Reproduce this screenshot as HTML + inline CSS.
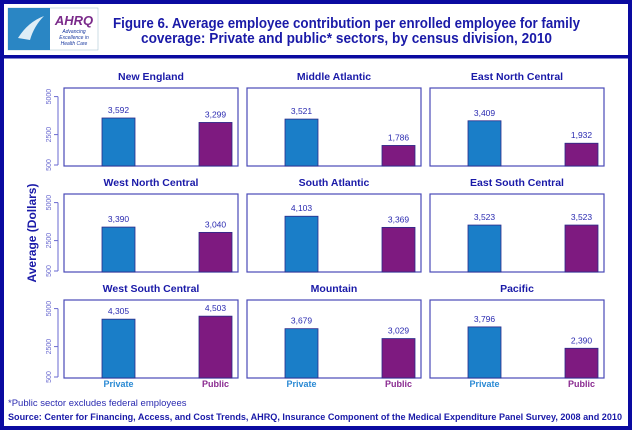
<!DOCTYPE html>
<html><head><meta charset="utf-8"><style>
html,body{margin:0;padding:0;background:#fff}
svg{display:block;font-family:"Liberation Sans",Arial,sans-serif}
</style></head><body>
<svg width="640" height="432" viewBox="0 0 640 432">
<rect x="2" y="2" width="628" height="426" fill="#fff" stroke="#0a0aa0" stroke-width="4"/>
<rect x="4" y="55" width="624" height="3.5" fill="#0a0aa0"/>
<g>
<rect x="8" y="8" width="90" height="42" fill="#fff" stroke="#9bc" stroke-width="0.5"/>
<rect x="8" y="8" width="42" height="42" fill="#2a86c4"/>
<path d="M18 38 Q28 22 44 16 Q34 26 30 40 Z" fill="#fff" opacity="0.85"/>
<text x="74" y="25" text-anchor="middle" font-size="13" font-weight="bold" font-style="italic" fill="#7a2a8a">AHRQ</text>
<text x="74" y="33" text-anchor="middle" font-size="5" font-style="italic" fill="#1a3aa0">Advancing</text>
<text x="74" y="39" text-anchor="middle" font-size="5" font-style="italic" fill="#1a3aa0">Excellence in</text>
<text x="74" y="45" text-anchor="middle" font-size="5" font-style="italic" fill="#1a3aa0">Health Care</text>
</g>
<text x="113" y="28" font-size="14.5" font-weight="bold" fill="#1a1aa8" textLength="467" lengthAdjust="spacingAndGlyphs">Figure 6. Average employee contribution per enrolled employee for family</text>
<text x="141" y="43" font-size="14.5" font-weight="bold" fill="#1a1aa8" textLength="411" lengthAdjust="spacingAndGlyphs">coverage: Private and public* sectors, by census division, 2010</text>
<text transform="translate(36,233) rotate(-90)" text-anchor="middle" font-size="12" font-weight="bold" fill="#1a1aa8">Average (Dollars)</text>
<g id="panels"></g>
<text x="8" y="406" font-size="9.5" fill="#2a2ab0">*Public sector excludes federal employees</text>
<text x="8" y="420" font-size="9" font-weight="bold" fill="#1a1aa8" textLength="614" lengthAdjust="spacingAndGlyphs">Source: Center for Financing, Access, and Cost Trends, AHRQ, Insurance Component of the Medical Expenditure Panel Survey, 2008 and 2010</text>
</svg>
<script>
const divisions = ["New England","Middle Atlantic","East North Central","West North Central","South Atlantic","East South Central","West South Central","Mountain","Pacific"];
const privateValues = [3592,3521,3409,3390,4103,3523,4305,3679,3796];
const publicValues = [3299,1786,1932,3040,3369,3523,4503,3029,2390];
const yTicks = [500,2500,5000];
const sectors = ["Private","Public"];
const NS="http://www.w3.org/2000/svg";
const g=document.getElementById('panels');
const colX=[64,247,430], rowY=[88,194,300], PW=174, PH=78;
function yScale(v,top){ const bottom=top+77; return bottom-(v-500)*0.0152; }
function mk(tag,attrs,parent){const e=document.createElementNS(NS,tag);for(const k in attrs)e.setAttribute(k,attrs[k]);parent.appendChild(e);return e;}
function fmt(v){return v.toLocaleString('en-US');}
divisions.forEach((d,i)=>{
  const px=colX[i%3], py=rowY[Math.floor(i/3)];
  const pg=mk('g',{},g);
  
  
  const t=mk('text',{x:px+PW/2,y:py-8,'text-anchor':'middle','font-size':'10.5','font-weight':'bold',fill:'#1a1aa8'},pg);
  t.textContent=d;
  
  
  const r=mk('rect',{x:px,y:py,width:PW,height:PH,fill:'#fff',stroke:'#4a4ab8','stroke-width':1.2},pg);
  
  
  if(i%3===0){
    const ax=mk('line',{x1:px-6,x2:px-6,y1:yScale(5000,py),y2:yScale(500,py),stroke:'#6a6ad0','stroke-width':1},pg);
    
    
    yTicks.forEach(v=>{
      const y=yScale(v,py);
      const tk=mk('line',{x1:px-10,x2:px-6,y1:y,y2:y,stroke:'#6a6ad0'},pg);
      
      
      const tl=mk('text',{transform:`translate(${px-13},${y}) rotate(-90)`,'text-anchor':'middle','font-size':'7',fill:'#6a6ad0'},pg);
      tl.textContent=v;
      
      
    });
  }
  const vals=[privateValues[i],publicValues[i]];
  const offs=[38,135], cols=['#1a7ec8','#7e1a80'], lab=['#2a8ad4','#8a2a90'];
  vals.forEach((v,j)=>{
    const top=yScale(v,py), bx=px+offs[j];
    const b=mk('rect',{x:bx,y:top,width:33,height:py+PH-top,fill:cols[j],stroke:'#2a2a8a','stroke-width':0.8},pg);
    
    
    const vl=mk('text',{x:bx+16.5,y:top-5,'text-anchor':'middle','font-size':'8.5',fill:'#2a2ab0'},pg);
    vl.textContent=fmt(v);
    
    
    if(i>=6){
      const xl=mk('text',{x:bx+16.5,y:py+PH+9,'text-anchor':'middle','font-size':'9','font-weight':'bold',fill:lab[j]},pg);
      xl.textContent=sectors[j];
      
      
    }
  });
});
</script>
</body></html>
